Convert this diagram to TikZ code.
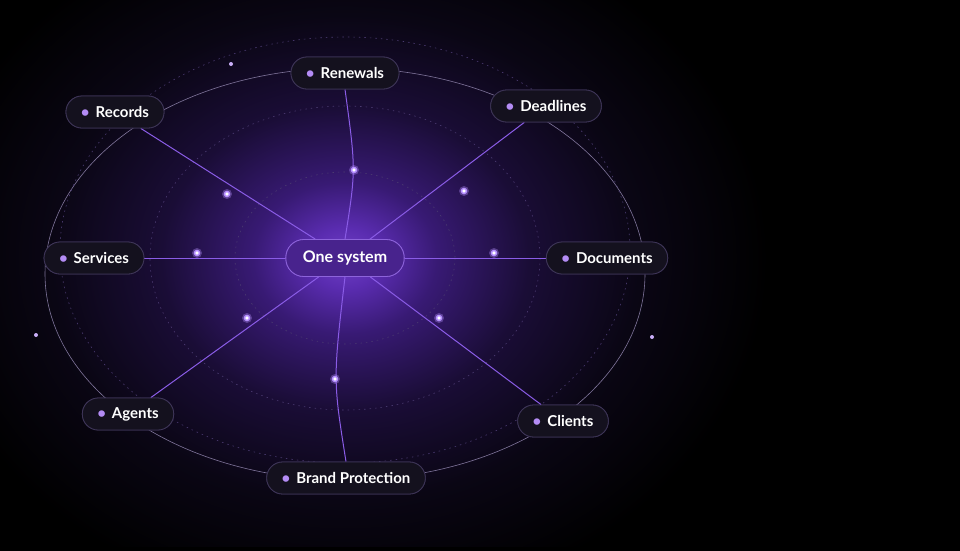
\documentclass[tikz,border=0pt]{standalone}
\usepackage{fontspec}
\setmainfont{Lato}
\definecolor{border}{HTML}{3E3558}
\definecolor{pillbg}{HTML}{14111E}
\definecolor{linkc}{HTML}{8A5CE6}
\definecolor{ringc}{HTML}{4A3A70}
\definecolor{glowc}{HTML}{B690FF}
\definecolor{dotc}{HTML}{B48CF5}
\definecolor{deep}{HTML}{5A2CB0}
\definecolor{gmid}{HTML}{7040C8}
\definecolor{g2}{HTML}{381A74}
\definecolor{g3}{HTML}{1A0D36}
\definecolor{g4}{HTML}{0A0614}
\pgfdeclareradialshading{glow}{\pgfpoint{0bp}{0bp}}{color(0bp)=(gmid); color(2bp)=(deep); color(5bp)=(g2); color(10bp)=(g3); color(16bp)=(g4); color(23bp)=(black); color(50bp)=(black)}
\begin{document}
\begin{tikzpicture}[x=1pt,y=-1pt,
  pill/.style={draw=border,fill=pillbg,rounded corners=16pt,minimum height=32pt,inner xsep=15pt,text=white,font=\fontsize{15}{17}\selectfont\bfseries,line width=0.8pt},
  cpill/.style={pill,fill=deep!80!black,draw=glowc!55!deep,inner xsep=17pt,minimum height=37pt,rounded corners=18pt,font=\fontsize{16}{18}\selectfont\bfseries},
  link/.style={draw=linkc,line width=1pt},
  ring/.style={draw=ringc,line width=0.6pt,dash pattern=on 1.5pt off 4pt},
  hub/.style={circle,fill=white,inner sep=0pt,minimum size=5pt,draw=glowc,line width=1.5pt}]
\useasboundingbox (0,0) rectangle (960,550);
\fill[black] (-5,-5) rectangle (965,555);
\shade[shading=glow] (345,258) ellipse (460 and 380);
\fill[black] (-5,547) rectangle (965,560);
\draw[ringc!70,line width=0.6pt] (345,274) ellipse (300 and 206);
\draw[ring] (345,250) ellipse (285 and 213);
\draw[ring] (345,258) ellipse (195 and 152);
\draw[ring] (345,258) ellipse (110 and 86);
\node[cpill] (c) at (345,258) {One system};
\newcommand{\pn}[3]{\node[pill] (#1) at (#2) {\textcolor{dotc}{\textbullet}\hspace{6pt}#3};}
\pn{ren}{345,73}{Renewals}
\pn{rec}{115,112}{Records}
\pn{dea}{546,106}{Deadlines}
\pn{ser}{94,258}{Services}
\pn{doc}{607,258}{Documents}
\pn{age}{128,414}{Agents}
\pn{cli}{563,421}{Clients}
\pn{bra}{346,478}{Brand Protection}
\coordinate (d1) at (354,170); \coordinate (d2) at (227,194); \coordinate (d3) at (464,191);
\coordinate (d4) at (197,253); \coordinate (d5) at (494,253); \coordinate (d6) at (247,318);
\coordinate (d7) at (439,318); \coordinate (d8) at (335,379);
\draw[link] (c.north) .. controls (356,170) .. (ren.south);
\draw[link] (c) -- (rec);
\draw[link] (c) -- (dea);
\draw[link] (c.west) -- (ser.east);
\draw[link] (c.east) -- (doc.west);
\draw[link] (c) -- (age);
\draw[link] (c) -- (cli);
\draw[link] (c.south) .. controls (333,380) .. (bra.north);
\node[cpill] at (345,258) {One system};
\pn{ren}{345,73}{Renewals}
\pn{rec}{115,112}{Records}
\pn{dea}{546,106}{Deadlines}
\pn{ser}{94,258}{Services}
\pn{doc}{607,258}{Documents}
\pn{age}{128,414}{Agents}
\pn{cli}{563,421}{Clients}
\pn{bra}{346,478}{Brand Protection}
\foreach \d in {d1,d2,d3,d4,d5,d6,d7,d8}{
  \fill[glowc,opacity=0.35] (\d) circle (5pt);
  \node[hub] at (\d) {};}
\foreach \p in {(231,64),(36,335),(652,337)} \fill[dotc!70] \p circle (2pt);
\end{tikzpicture}
\end{document}
